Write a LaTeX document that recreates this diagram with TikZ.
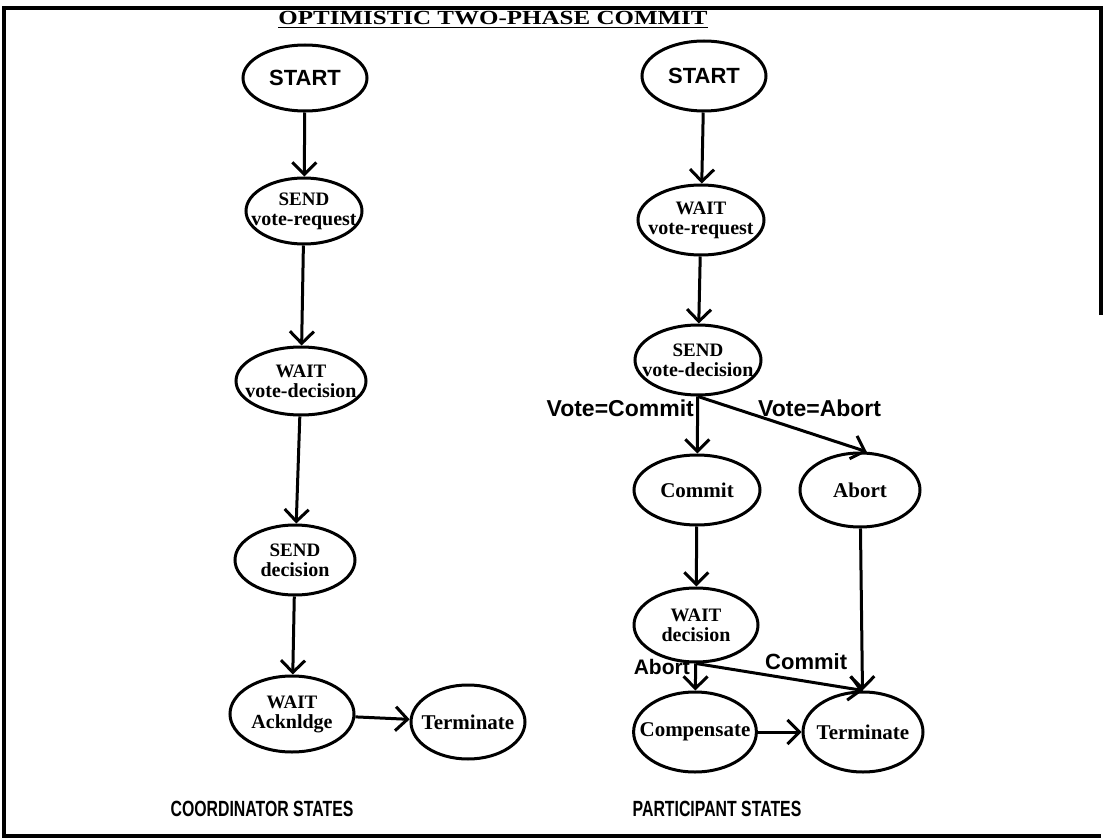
\documentclass[tikz,border=0pt]{standalone}
\usepackage{fontspec}
\setmainfont{Liberation Serif}
\setsansfont{Liberation Sans}
\usetikzlibrary{shapes.geometric,arrows.meta}

% upper line of a state (keyword) and its lower line (subject)
\newcommand{\kw}[1]{{\fontsize{19}{19}\selectfont #1}}
\newcommand{\sub}[1]{{\fontsize{20}{20}\selectfont #1}}
\newcommand{\labelfont}{\sffamily\bfseries\fontsize{22}{22}\selectfont}
\newcommand{\condensed}[1]{\scalebox{0.72}[1]{#1}}

\tikzset{
  state/.style={ellipse, draw, line width=3pt, inner xsep=-12pt, inner ysep=-4pt,
    align=center, font=\bfseries\fontsize{21}{21}\selectfont},
  sstate/.style={state, font=\sffamily\bfseries\fontsize{22}{22}\selectfont},
  arr/.style={line width=3pt, -{Straight Barb[length=12pt,width=24pt,line width=3pt]}},
  lbl/.style={inner sep=0pt, font=\labelfont},
}

\begin{document}
\begin{tikzpicture}[x=1pt,y=-1pt]
  \useasboundingbox (0,0) rectangle (1104,840);

  % outer frame (right edge broken off below)
  \draw[line width=3.2pt] (1101,315) -- (1101,8) -- (4,8) -- (4,836) -- (1101,836);

  % title
  \node[inner sep=0pt, anchor=base, font=\bfseries\fontsize{20}{20}\selectfont] (title) at (493,25)
    {\underline{\scalebox{1.25}[1]{OPTIMISTIC TWO-PHASE COMMIT}}};

  % coordinator states
  \node[sstate, minimum width=124pt, minimum height=66pt] (cstart) at (305,78) {START};
  \node[state, minimum width=116pt, minimum height=66pt] (csend) at (304,211) {\kw{SEND}\\[-1pt]\sub{vote-request}};
  \node[state, minimum width=130pt, minimum height=68pt] (cwait) at (301,381) {\kw{WAIT}\\[-1pt]\sub{vote-decision}};
  \node[state, minimum width=120pt, minimum height=70pt] (cdec) at (295,560) {\kw{SEND}\\[-1pt]\sub{decision}};
  \node[state, minimum width=124pt, minimum height=76pt] (cack) at (292,714) {\kw{WAIT}\\[-1pt]\sub{Acknldge}};
  \node[state, minimum width=114pt, minimum height=74pt] (cterm) at (468,722) {Terminate};

  \draw[arr] (cstart) -- (csend);
  \draw[arr] (csend) -- (cwait);
  \draw[arr] (cwait) -- (cdec);
  \draw[arr] (cdec) -- (cack);
  \draw[arr] (cack) -- (cterm);

  % participant states
  \node[sstate, minimum width=124pt, minimum height=70pt] (pstart) at (704,76) {START};
  \node[state, minimum width=126pt, minimum height=70pt] (pwait) at (701,220) {\kw{WAIT}\\[-1pt]\sub{vote-request}};
  \node[state, minimum width=126pt, minimum height=70pt] (psend) at (698,360) {\kw{SEND}\\[-1pt]\sub{vote-decision}};
  \node[state, minimum width=126pt, minimum height=70pt] (pcommit) at (697,490) {Commit};
  \node[state, minimum width=120pt, minimum height=74pt] (pabort) at (860,490) {Abort};
  \node[state, minimum width=124pt, minimum height=74pt] (pwdec) at (696,625) {\kw{WAIT}\\[-1pt]\sub{decision}};
  \node[state, minimum width=122pt, minimum height=80pt] (pcomp) at (695,732) {Compensate};
  \node[state, minimum width=120pt, minimum height=80pt] (pterm) at (863,732) {Terminate};

  \draw[arr] (pstart) -- (pwait);
  \draw[arr] (pwait) -- (psend);
  \draw[arr] (psend) -- (pcommit);
  \draw[arr] (psend.south) -- (pabort.80);
  \draw[arr] (pcommit) -- (pwdec);
  \draw[arr] (pabort) -- (pterm);
  \draw[arr] (pwdec) -- (pcomp);
  \draw[arr] (pwdec.south) -- (pterm.north);
  \draw[arr] (pcomp) -- (pterm);

  % transition labels
  \node[lbl, anchor=east, font=\sffamily\bfseries\fontsize{23}{23}\selectfont] (lvc) at (694,408) {Vote=Commit};
  \node[lbl, anchor=west, font=\sffamily\bfseries\fontsize{23}{23}\selectfont] (lva) at (758,408) {Vote=Abort};
  \node[lbl, anchor=east, font=\sffamily\bfseries\fontsize{21}{21}\selectfont] (lab) at (690,667) {Abort};
  \node[lbl, anchor=west] (lcm) at (765,662) {Commit};

  % column captions
  \node[lbl] (ccap) at (262,809) {\condensed{COORDINATOR STATES}};
  \node[lbl] (pcap) at (717,809) {\condensed{PARTICIPANT STATES}};
\end{tikzpicture}
\end{document}
